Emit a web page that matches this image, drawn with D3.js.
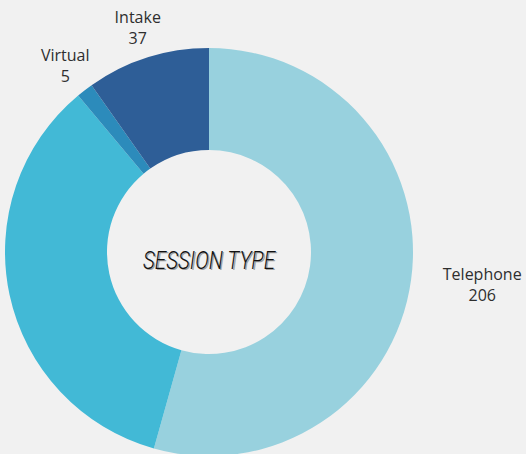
<!DOCTYPE html>
<html>
<head>
<meta charset="utf-8">
<script src="https://cdn.jsdelivr.net/npm/d3@7"></script>
<style>
  body { margin: 0; background: #f1f1f1; }
  svg { display: block; }
  .label { font-family: "Open Sans", sans-serif; font-size: 16px; fill: #2e2e2e; }
  .title { font-family: Roboto, "Liberation Sans Narrow", sans-serif; font-style: italic; font-weight: 300; font-size: 26px; }
</style>
</head>
<body>
<div id="wrapper"></div>
<script>
const categories = ["Telephone", "In-person", "Virtual", "Intake"]
const values = [206, 131, 5, 37]
const colors = ["#98d1de", "#42b9d6", "#2c8bbb", "#2e5e97"]
const title = "SESSION TYPE"

const data = categories.map((c, i) => ({ name: c, value: values[i], color: colors[i] }))

const width = 526
const height = 454
const cx = 209, cy = 252
const outerRadius = 204
const innerRadius = 102
const labelRadius = 236

const svg = d3.select("#wrapper")
  .append("svg")
  .attr("width", width)
  .attr("height", height)

const bounds = svg.append("g")
  .attr("transform", `translate(${cx},${cy})`)

const pie = d3.pie()
  .value(d => d.value)
  .sort(null)

const arc = d3.arc()
  .innerRadius(innerRadius)
  .outerRadius(outerRadius)

const labelArc = d3.arc()
  .innerRadius(labelRadius)
  .outerRadius(labelRadius)

const arcs = pie(data)

bounds.selectAll("path.slice")
  .data(arcs)
  .join("path")
  .attr("class", "slice")
  .attr("d", arc)
  .attr("fill", d => d.data.color)

// labels: two lines, name + value
const labels = bounds.selectAll("g.label")
  .data(arcs)
  .join("g")
  .attr("class", "label")

labels.each(function(d) {
  const g = d3.select(this)
  const [x, y] = labelArc.centroid(d)
  g.append("text").attr("text-anchor", "middle").attr("y", -4).text(d.data.name)
  g.append("text").attr("text-anchor", "middle").attr("y", 17).text(d.data.value)
  const w = this.getBBox().width
  // right side labels start at the anchor point
  const lx = x > 0 ? x + w / 2 : x
  g.attr("transform", `translate(${lx},${y})`)
  // hide labels that fall off the canvas
  if (cx + lx - w / 2 < 0 || cx + lx + w / 2 > width + 4) g.remove()
})

const titleAttrs = sel => sel
  .attr("class", "title")
  .attr("text-anchor", "middle")
  .attr("textLength", 132)
  .attr("lengthAdjust", "spacingAndGlyphs")
  .text(title)

bounds.append("text")
  .call(titleAttrs)
  .attr("x", 1.3)
  .attr("y", 18.3)
  .attr("fill", "#a0a0a0")

bounds.append("text")
  .call(titleAttrs)
  .attr("x", 0)
  .attr("y", 17)
  .attr("fill", "#111")
</script>
</body>
</html>
